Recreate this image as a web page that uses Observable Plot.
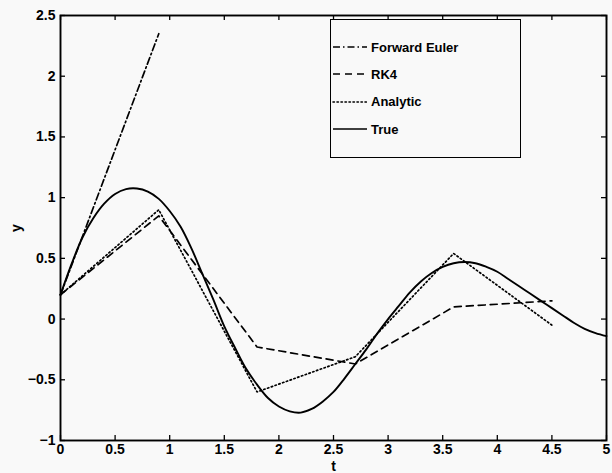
<!DOCTYPE html>
<html><head><meta charset="utf-8">
<script src="https://cdn.jsdelivr.net/npm/d3@7"></script>
<script src="https://cdn.jsdelivr.net/npm/@observablehq/plot@0.6"></script>
<style>
body{margin:0;background:#f9f9f9;}
#wrap{position:relative;width:612px;height:473px;font-family:"Liberation Sans",Arial,sans-serif;}
#legend{position:absolute;left:330px;top:19px;width:191px;height:139px;border:1.4px solid #000;background:#f9f9f9;box-sizing:border-box;}
.item{position:absolute;left:0;height:20px;display:flex;align-items:center;font-weight:bold;font-size:13px;color:#000;}
.item svg{margin-right:4px;}
</style></head><body><div id="wrap"><div id="plot"></div><div id="legend"></div></div>
<script>
const tTrue = [0,0.1,0.2,0.3,0.4,0.5,0.6,0.7,0.8,0.9,1.0,1.1,1.2,1.3,1.4,1.5,1.6,1.7,1.8,1.9,2.0,2.1,2.2,2.3,2.4,2.5,2.6,2.7,2.8,2.9,3.0,3.1,3.2,3.3,3.4,3.5,3.6,3.7,3.8,3.9,4.0,4.1,4.2,4.3,4.4,4.5,4.6,4.7,4.8,4.9,5.0];
const yTrue = [0.2,0.45,0.67,0.83,0.95,1.03,1.07,1.075,1.05,0.99,0.89,0.76,0.58,0.37,0.16,-0.06,-0.24,-0.41,-0.54,-0.65,-0.72,-0.76,-0.77,-0.74,-0.68,-0.60,-0.49,-0.37,-0.25,-0.12,0.0,0.11,0.22,0.31,0.38,0.43,0.46,0.47,0.46,0.43,0.39,0.33,0.27,0.21,0.15,0.09,0.03,-0.03,-0.08,-0.115,-0.14];
const tEuler = [0,0.9];
const yEuler = [0.2,2.35];
const tRK4 = [0,0.9,1.8,2.7,3.6,4.5];
const yRK4 = [0.2,0.85,-0.23,-0.37,0.1,0.15];
const tAnalytic = [0,0.9,1.8,2.7,3.6,4.5];
const yAnalytic = [0.2,0.9,-0.6,-0.31,0.54,-0.05];
const xTicks = [0,0.5,1,1.5,2,2.5,3,3.5,4,4.5,5];
const yTicks = [-1,-0.5,0,0.5,1,1.5,2,2.5];
const seriesNames = ["Forward Euler","RK4","Analytic","True"];
const seriesDash = ["7,3,1.5,3","7,5","1.4,2.6",null];

const W = 612, H = 473, mt = 15, mb = 33, ml = 60, mr = 6;
const ih = H - mt - mb, iw = W - ml - mr;
const zip = (ts, ys) => ts.map((t, i) => ({t, y: ys[i]}));
const fmt = d => d < 0 ? "\u2212" + Math.abs(d) : String(d);

const chart = Plot.plot({
  width: W, height: H,
  marginTop: mt, marginBottom: mb, marginLeft: ml, marginRight: mr,
  style: {background: "transparent", fontFamily: "'Liberation Sans', Arial, sans-serif", color: "#000"},
  x: {domain: [0, 5]},
  y: {domain: [-1, 2.5]},
  marks: [
    Plot.line(zip(tEuler, yEuler), {x: "t", y: "y", stroke: "#000", strokeWidth: 1.7, strokeDasharray: seriesDash[0]}),
    Plot.line(zip(tRK4, yRK4), {x: "t", y: "y", stroke: "#000", strokeWidth: 1.7, strokeDasharray: seriesDash[1]}),
    Plot.line(zip(tAnalytic, yAnalytic), {x: "t", y: "y", stroke: "#000", strokeWidth: 1.7, strokeDasharray: seriesDash[2], strokeLinecap: "round"}),
    Plot.line(zip(tTrue, yTrue), {x: "t", y: "y", stroke: "#000", strokeWidth: 1.9, curve: "catmull-rom"}),
    Plot.tickX(xTicks, {x: d => d, insetTop: ih - 5, stroke: "#000", strokeWidth: 1.3}),
    Plot.tickX(xTicks, {x: d => d, insetBottom: ih - 5, stroke: "#000", strokeWidth: 1.3}),
    Plot.tickY(yTicks, {y: d => d, insetRight: iw - 5, stroke: "#000", strokeWidth: 1.3}),
    Plot.tickY(yTicks, {y: d => d, insetLeft: iw - 5, stroke: "#000", strokeWidth: 1.3}),
    Plot.frame({stroke: "#000", strokeWidth: 1.9}),
    Plot.axisX(xTicks, {tickSize: 0, tickPadding: 4, fontSize: 14, fontWeight: "bold", tickFormat: fmt, label: "t", labelAnchor: "center", labelOffset: 30, labelArrow: "none"}),
    Plot.axisY(yTicks, {tickSize: 0, tickPadding: 5, fontSize: 14, fontWeight: "bold", tickFormat: fmt, label: "y", labelAnchor: "center", labelOffset: 49, labelArrow: "none"})
  ]
});
document.getElementById("plot").appendChild(chart);

const legend = document.getElementById("legend");
const tops = [17, 44, 71.5, 99];
seriesNames.forEach((name, i) => {
  const div = document.createElement("div");
  div.className = "item";
  div.style.top = tops[i] + "px";
  const dash = seriesDash[i] ? `stroke-dasharray="${seriesDash[i]}"` : "";
  div.innerHTML = `<svg width="36" height="20"><line x1="2" x2="36" y1="10" y2="10" stroke="#000" stroke-width="1.6" ${dash} ${i===2?'stroke-linecap="round"':''}/></svg>${name}`;
  legend.appendChild(div);
});
</script>
</body></html>
